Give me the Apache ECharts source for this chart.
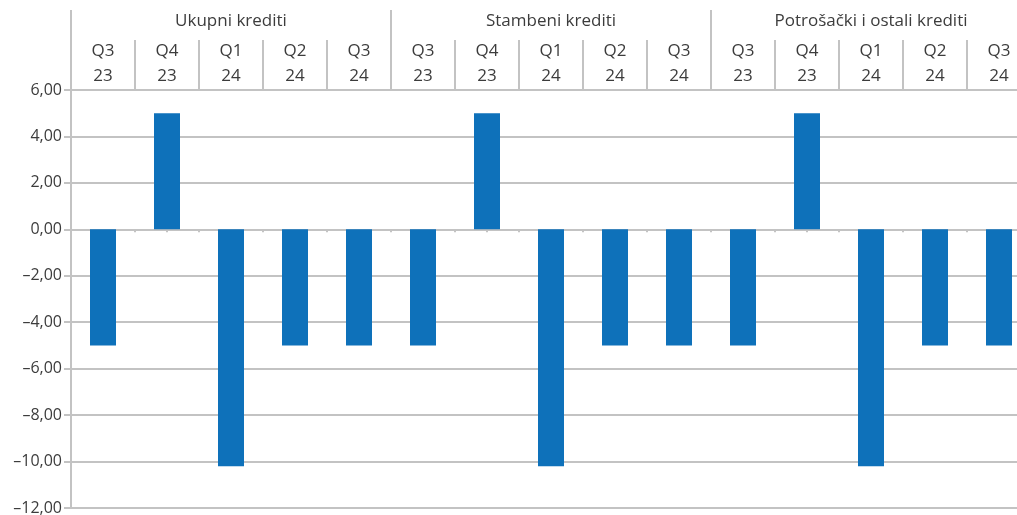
<!DOCTYPE html>
<html>
<head>
<meta charset="utf-8">
<script src="https://cdn.jsdelivr.net/npm/echarts@6/dist/echarts.min.js"></script>
<style>
  html, body { margin: 0; padding: 0; background: #fff; }
  #chart { width: 1017px; height: 515px; }
</style>
</head>
<body>
<div id="chart"></div>
<script>
// grupe kredita i kvartali
const groups = ["Ukupni krediti", "Stambeni krediti", "Potrošački i ostali krediti"];
const quarters = ["Q3\n23", "Q4\n23", "Q1\n24", "Q2\n24", "Q3\n24"];
// vrijednosti po grupama
const ukupni = [-5.0, 5.0, -10.2, -5.0, -5.0];
const stambeni = [-5.0, 5.0, -10.2, -5.0, -5.0];
const potrosacki = [-5.0, 5.0, -10.2, -5.0, -5.0];
const yTicks = { min: -12, max: 6, interval: 2 };

const categories = [].concat(quarters, quarters, quarters);
const values = [].concat(ukupni, stambeni, potrosacki);
// pomocna os za male crtice na nuli (granice + sredine)
const halfCats = [];
for (let i = 0; i < categories.length * 2; i++) halfCats.push("");

const gray = "#c3c3c3";
const textColor = "#3c3c3c";
const font = "'Open Sans', 'Noto Sans', sans-serif";

let myChart = echarts.init(document.getElementById("chart"));
let option = {
  animation: false,
  grid: {
    left: 71, right: -14, top: 90, bottom: 7,
    containLabel: false, outerBoundsMode: "none"
  },
  xAxis: [
    {
      type: "category",
      position: "top",
      data: categories,
      axisLine: { show: true, onZero: false, lineStyle: { color: gray, width: 2 } },
      axisTick: { show: true, length: 50, lineStyle: { color: gray, width: 2 } },
      axisLabel: {
        color: textColor,
        fontFamily: font,
        fontSize: 17,
        lineHeight: 25,
        margin: 1,
        interval: 0
      }
    },
    {
      type: "category",
      position: "top",
      data: groups,
      axisLine: { show: false, onZero: false },
      axisTick: { show: true, length: 80, lineStyle: { color: gray, width: 2 } },
      axisLabel: {
        color: textColor,
        fontFamily: font,
        fontSize: 17,
        margin: 60,
        interval: 0
      }
    },
    {
      type: "category",
      position: "bottom",
      data: halfCats,
      axisLine: { show: true, onZero: true, lineStyle: { color: gray, width: 2 } },
      axisTick: { show: true, length: 3, interval: 0, lineStyle: { color: gray, width: 2 } },
      axisLabel: { show: false }
    }
  ],
  yAxis: {
    type: "value",
    min: yTicks.min,
    max: yTicks.max,
    interval: yTicks.interval,
    axisLine: { show: true, onZero: false, lineStyle: { color: gray, width: 2 } },
    axisTick: { show: true, length: 7, lineStyle: { color: gray, width: 2 } },
    splitLine: { show: true, lineStyle: { color: gray, width: 2 } },
    axisLabel: {
      color: textColor,
      fontFamily: font,
      fontSize: 16,
      margin: 9,
      formatter: v => v.toFixed(2).replace(".", ",").replace("-", "\u2013")
    }
  },
  series: [
    {
      type: "bar",
      xAxisIndex: 0,
      data: values,
      barWidth: 26,
      itemStyle: { color: "#0e71ba" }
    }
  ]
};
myChart.setOption(option, true);
</script>
</body>
</html>
